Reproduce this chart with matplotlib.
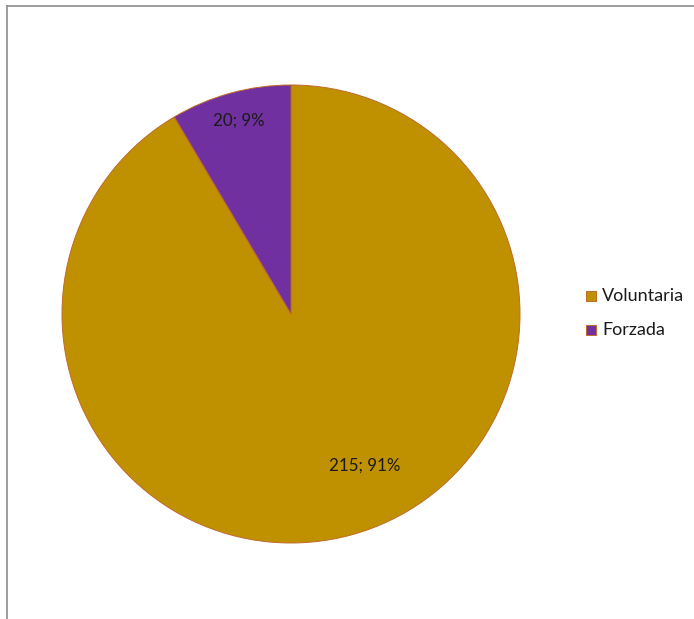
import matplotlib
matplotlib.use("Agg")
import matplotlib.pyplot as plt
from matplotlib.lines import Line2D
from matplotlib.patches import Rectangle

categories = ["Voluntaria", "Forzada"]
values = [215, 20]
percent_labels = ["91%", "9%"]
colors = ["#BF9000", "#7030A0"]
edge_color = "#C06A2A"

W, H = 694, 619
fig = plt.figure(figsize=(W / 100, H / 100), dpi=100)
plt.rcParams["font.family"] = ["Lato", "DejaVu Sans"]

# pie axes: centre (291, 314) px, radius 229 px
cx, cy, r = 291, 314, 229
ax = fig.add_axes([(cx - r) / W, (H - cy - r) / H, 2 * r / W, 2 * r / H])
wedges, _ = ax.pie(values, colors=colors, startangle=90, counterclock=False,
                   radius=1.0,
                   wedgeprops=dict(edgecolor=edge_color, linewidth=0.7))
ax.set_xlim(-1, 1)
ax.set_ylim(-1, 1)
ax.set_aspect("equal")
ax.axis("off")
for w in wedges:
    w.set_clip_on(False)

# data labels
label_pos = [(0.323, -0.664), (-0.227, 0.843)]
for (x, y), v, p in zip(label_pos, values, percent_labels):
    ax.text(x, y, f"{v}; {p}", ha="center", va="center", fontsize=12.2,
            color="#1a1a1a")

# legend
leg_y = [296, 330]
for name, col, y in zip(categories, colors, leg_y):
    fig.patches.append(Rectangle(((586) / W, (H - y - 5) / H), 10 / W, 10 / H,
                                 transform=fig.transFigure, facecolor=col,
                                 edgecolor=edge_color, linewidth=0.7))
    fig.text(602 / W, (H - y) / H, name, ha="left", va="center",
             fontsize=13, color="#1a1a1a")

# chart area border (top and left)
border = "#8c8c8c"
fig.lines.append(Line2D([6.5 / W, 6.5 / W], [0, (H - 5.5) / H],
                        transform=fig.transFigure, color=border, linewidth=1.2))
fig.lines.append(Line2D([6.5 / W, 694 / W], [(H - 5.5) / H, (H - 5.5) / H],
                        transform=fig.transFigure, color=border, linewidth=1.2))

fig.savefig("out.png", dpi=100, facecolor="white")
